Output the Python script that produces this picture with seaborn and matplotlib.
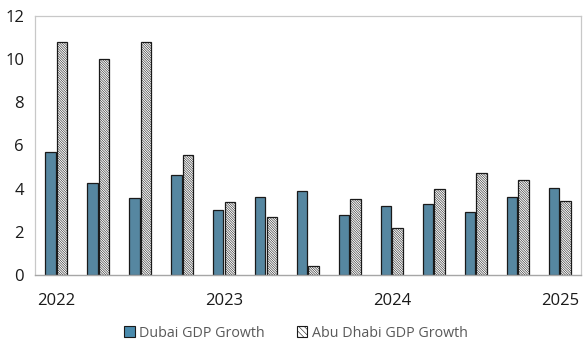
import matplotlib.pyplot as plt
import pandas as pd
import seaborn as sns
from matplotlib.patches import Patch

# quarterly GDP growth (%), 2022Q1 .. 2025Q1
quarters = ["2022Q1", "2022Q2", "2022Q3", "2022Q4",
            "2023Q1", "2023Q2", "2023Q3", "2023Q4",
            "2024Q1", "2024Q2", "2024Q3", "2024Q4",
            "2025Q1"]
dubai = [5.71, 4.28, 3.58, 4.62, 3.0, 3.63, 3.89, 2.78, 3.18, 3.28, 2.9, 3.6, 4.02]
abu_dhabi = [10.81, 10.0, 10.81, 5.55, 3.37, 2.67, 0.43, 3.51, 2.18, 3.97, 4.73, 4.39, 3.44]
year_labels = ["2022", "", "", "", "2023", "", "", "", "2024", "", "", "", "2025"]
series_names = ["Dubai GDP Growth", "Abu Dhabi GDP Growth"]

df = pd.DataFrame({"quarter": quarters, series_names[0]: dubai, series_names[1]: abu_dhabi})
long_df = df.melt(id_vars="quarter", var_name="series", value_name="growth")

sns.set_style("white")
plt.rcParams["font.family"] = ["Open Sans", "DejaVu Sans"]
plt.rcParams["hatch.linewidth"] = 0.4

fig = plt.figure(figsize=(5.86, 3.47), dpi=100)
ax = fig.add_axes([0.06, 0.2075, 0.931, 0.7465])

sns.barplot(data=long_df, x="quarter", y="growth", hue="series",
            palette=["#4A8BAD", "white"], width=0.56, gap=0.09,
            edgecolor="#1a1a1a", linewidth=0.9, ax=ax, legend=False)

for bar in ax.containers[1]:
    bar.set_hatch("\\" * 14)

ax.set_ylim(0, 12)
ax.set_yticks(range(0, 13, 2))
ax.set_xlim(-0.5, len(quarters) - 0.5)
ax.set_xticks(range(len(quarters)))
ax.set_xticklabels(year_labels)
ax.set_xticks([i - 0.5 for i in range(len(quarters) + 1)], minor=True)
ax.set_xlabel("")
ax.set_ylabel("")

ax.tick_params(axis="x", which="major", length=0, pad=13, labelsize=12, labelcolor="#1a1a1a")
ax.tick_params(axis="x", which="minor", direction="in", length=5, color="#c8c8c8", width=0.8)
ax.tick_params(axis="y", direction="in", length=5, color="#c8c8c8", width=0.8,
               labelsize=12, labelcolor="#1a1a1a", pad=8)

for side in ["left", "top", "right"]:
    ax.spines[side].set_color("#c8c8c8")
    ax.spines[side].set_linewidth(0.9)
ax.spines["bottom"].set_color("#a6a6a6")
ax.spines["bottom"].set_linewidth(1.0)

handles = [
    Patch(facecolor="#4A8BAD", edgecolor="#1a1a1a", linewidth=0.8),
    Patch(facecolor="white", edgecolor="#1a1a1a", linewidth=0.8, hatch="\\" * 6),
]
fig.legend(handles, series_names, loc="center", bbox_to_anchor=(0.505, 0.04),
           ncol=2, frameon=False, fontsize=10.3, labelcolor="#595959",
           handlelength=0.75, handleheight=0.75, handletextpad=0.3, columnspacing=2.2)

fig.savefig("out.png", dpi=100)
